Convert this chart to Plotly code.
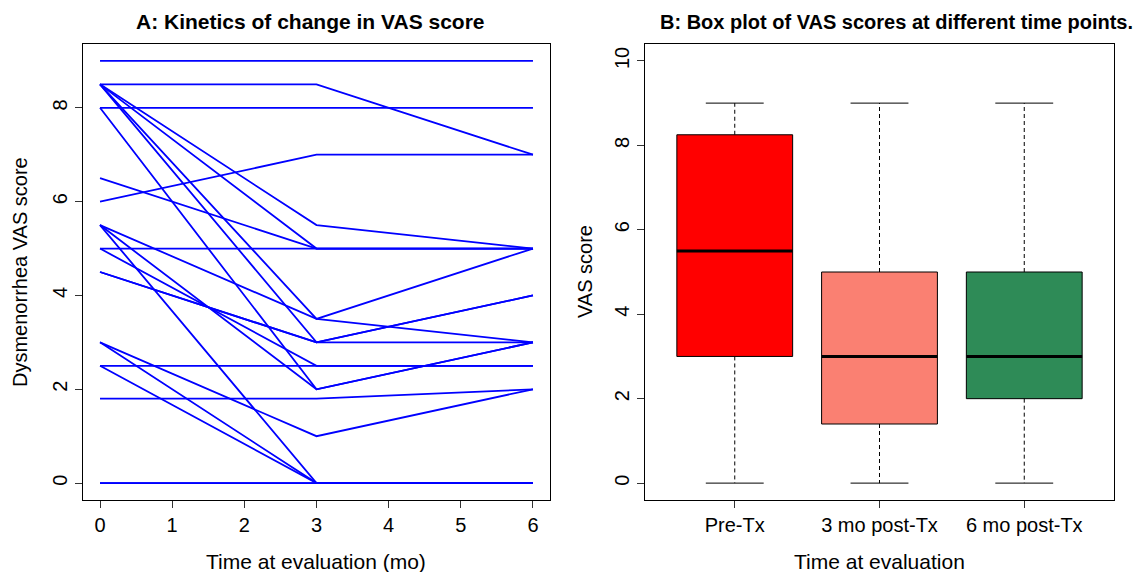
import plotly.graph_objects as go
import numpy as np

# ---- data ----
times = [0, 3, 6]
pre = [9, 8.5, 8, 6, 8.5, 8.5, 6.5, 5, 8.5, 5.5, 8.5, 4.5, 4.5, 8, 5.5, 5, 2.5, 1.8, 3, 3, 2.5, 5.5, 0, 0]
m3 = [9, 8.5, 8, 7, 5.5, 5, 5, 5, 3.5, 3.5, 3, 3, 3, 2, 2, 2.5, 2.5, 1.8, 1, 0, 0, 0, 0, 0]
m6 = [9, 7, 8, 7, 5, 5, 5, 5, 5, 3, 4, 4, 3, 3, 3, 2.5, 2.5, 2, 2, 0, 0, 0, 0, 0]
group_labels = ["Pre-Tx", "3 mo post-Tx", "6 mo post-Tx"]
box_colors = ["#FF0000", "#FA8072", "#2E8B57"]

W, H = 1142, 572
FONT = "Liberation Sans, Arial, Helvetica, sans-serif"
FS = 20


def fivenum_stats(vals):
    v = np.sort(np.asarray(vals, dtype=float))
    n = len(v)
    n4 = np.floor((n + 3) / 2) / 2
    d = np.array([1, n4, (n + 1) / 2, n + 1 - n4, n]) - 1
    st = 0.5 * (v[np.floor(d).astype(int)] + v[np.ceil(d).astype(int)])
    q1, med, q3 = st[1], st[2], st[3]
    iqr = q3 - q1
    lo = v[v >= q1 - 1.5 * iqr].min()
    hi = v[v <= q3 + 1.5 * iqr].max()
    return lo, q1, med, q3, hi


fig = go.Figure()

# ---- panel A: spaghetti lines ----
for a, b, c in zip(pre, m3, m6):
    fig.add_trace(go.Scatter(
        x=times, y=[a, b, c], mode="lines",
        line=dict(color="#0000FF", width=1.8),
        xaxis="x", yaxis="y", showlegend=False, hoverinfo="skip"))

# ---- panel B: boxplots ----
bw = 0.4
for i, (vals, col) in enumerate(zip([pre, m3, m6], box_colors)):
    pos = i + 1
    lo, q1, med, q3, hi = fivenum_stats(vals)
    fig.add_trace(go.Scatter(
        x=[pos - bw, pos + bw, pos + bw, pos - bw, pos - bw],
        y=[q1, q1, q3, q3, q1], mode="lines", fill="toself",
        fillcolor=col, line=dict(color="black", width=1),
        xaxis="x2", yaxis="y2", showlegend=False, hoverinfo="skip"))
    fig.add_trace(go.Scatter(
        x=[pos, pos, None, pos, pos], y=[q3, hi, None, q1, lo], mode="lines",
        line=dict(color="black", width=1, dash="4px,3px"),
        xaxis="x2", yaxis="y2", showlegend=False, hoverinfo="skip"))
    fig.add_trace(go.Scatter(
        x=[pos - bw / 2, pos + bw / 2, None, pos - bw / 2, pos + bw / 2],
        y=[hi, hi, None, lo, lo], mode="lines",
        line=dict(color="black", width=1),
        xaxis="x2", yaxis="y2", showlegend=False, hoverinfo="skip"))
    fig.add_trace(go.Scatter(
        x=[pos - bw, pos + bw], y=[med, med], mode="lines",
        line=dict(color="black", width=3),
        xaxis="x2", yaxis="y2", showlegend=False, hoverinfo="skip"))

# ---- layout ----
ytop, ybot = 1 - 44 / H, 1 - 500 / H
axcommon = dict(showgrid=False, zeroline=False, showline=True, linecolor="black",
                linewidth=1, mirror=True, ticks="outside", ticklen=7, tickwidth=1,
                tickcolor="#333333", tickfont=dict(family=FONT, size=FS, color="black"))


def ann(text, x, y, angle=0, bold=False, size=FS):
    return dict(text=f"<b>{text}</b>" if bold else text, x=x / W, y=1 - y / H,
                xref="paper", yref="paper", showarrow=False, xanchor="center",
                yanchor="middle", textangle=angle, font=dict(family=FONT, size=size))


fig.update_layout(
    width=W, height=H, margin=dict(l=0, r=0, t=0, b=0),
    paper_bgcolor="white", plot_bgcolor="white",
    font=dict(family=FONT, color="black"),
    xaxis=dict(domain=[82.7 / W, 550.3 / W], range=[-0.24, 6.24],
               tickvals=[0, 1, 2, 3, 4, 5, 6], anchor="y", **axcommon),
    yaxis=dict(domain=[ybot, ytop], range=[-0.36, 9.36],
               tickvals=[0, 2, 4, 6, 8], tickangle=-90, anchor="x", **axcommon),
    xaxis2=dict(domain=[645 / W, 1114 / W], range=[0.38, 3.62],
                tickvals=[1, 2, 3], ticktext=group_labels, anchor="y2", **axcommon),
    yaxis2=dict(domain=[ybot, ytop], range=[-0.4, 10.4],
                tickvals=[0, 2, 4, 6, 8, 10], tickangle=-90, anchor="x2", **axcommon),
    annotations=[
        ann("A: Kinetics of change in VAS score", 310, 22, bold=True, size=21),
        ann("B: Box plot of VAS scores at different time points.", 896, 22, bold=True),
        ann("Time at evaluation (mo)", 316, 561, size=21),
        ann("Time at evaluation", 880, 561, size=21),
        ann("Dysmenorrhea VAS score", 20, 272, angle=-90),
        ann("VAS score", 585, 272, angle=-90),
    ],
)

fig.write_html("out.html", config={"displayModeBar": False},
               post_script="document.body.style.margin='0';document.body.style.overflow='hidden';")
